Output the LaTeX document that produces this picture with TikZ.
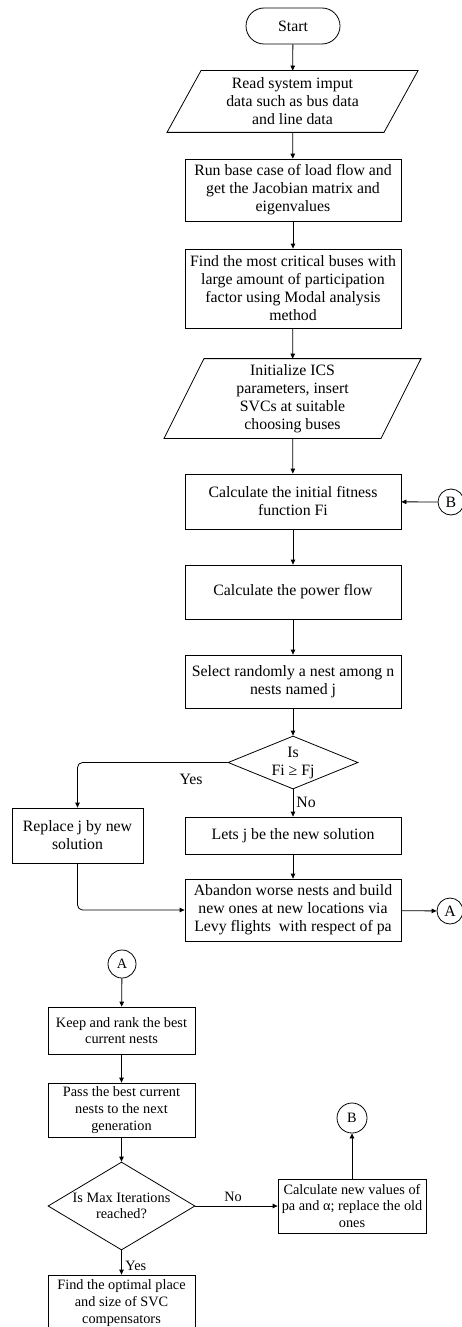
\documentclass[tikz,border=0pt]{standalone}
\usepackage{fontspec}
\setmainfont{Liberation Serif}
\usetikzlibrary{arrows.meta,shapes.geometric,calc}
\begin{document}
\begin{tikzpicture}[x=1pt,y=-1pt,
  font=\fontsize{15.8}{18}\selectfont,
  line width=0.8pt,
  box/.style={draw, rectangle, align=center, inner sep=2pt},
  mainbox/.style={box, minimum width=216pt},
  lowbox/.style={box, small, minimum width=147pt},
  iobox/.style={rectangle, align=center, inner sep=0pt},
  dia/.style={draw, diamond, inner sep=0pt},
  conn/.style={draw, circle, inner sep=0pt, minimum size=26pt},
  arr/.style={-{Triangle[length=5pt,width=4.5pt]}},
  small/.style={font=\fontsize{14.3}{16.7}\selectfont}
]
\clip (0,0) rectangle (462,1327);

% ---------- upper part ----------
\node[draw, rounded corners=18pt, minimum width=94pt, minimum height=36pt] (start) at (293,26) {Start};

\node[iobox, minimum width=180pt, minimum height=61pt] (p1) at (292.5,101.5) {Read system imput\\data such as bus data\\and line data};
\draw ($(p1.north)+(-91.5,0)$) -- ($(p1.north)+(125.5,0)$) -- ($(p1.south)+(91.5,0)$) -- ($(p1.south)+(-125.5,0)$) -- cycle;

\node[mainbox, minimum height=62pt] (b2) at (293,190) {Run base case of load flow and\\get the Jacobian matrix and\\eigenvalues};

\node[mainbox, minimum height=79pt] (b3) at (293,288.5) {Find the most critical buses with\\large amount of participation\\factor using Modal analysis\\method};

\node[iobox, minimum width=180pt, minimum height=79pt] (p2) at (292.5,398.5) {Initialize ICS\\parameters, insert\\SVCs at suitable\\choosing buses};
\draw ($(p2.north)+(-88.5,0)$) -- ($(p2.north)+(128.5,0)$) -- ($(p2.south)+(88.5,0)$) -- ($(p2.south)+(-128.5,0)$) -- cycle;

\node[mainbox, minimum height=55pt] (b4) at (293,501.5) {Calculate the initial fitness\\function Fi};
\node[conn] (cB1) at (451,502) {B};

\node[mainbox, minimum height=54pt] (b5) at (293,592) {Calculate the power flow};

\node[mainbox, minimum height=53pt] (b6) at (293,681.5) {Select randomly a nest among n\\nests named j};

\node[dia, minimum width=130pt, minimum height=53pt,
      label={[align=center, inner sep=0pt]center:Is\\Fi ≥ Fj}] (d1) at (293,762.5) {};

\node[box, minimum width=131pt, minimum height=55pt] (rep) at (77.5,835.5) {Replace j by new\\solution};
\node[mainbox, minimum height=37pt] (lets) at (293,835.5) {Lets j be the new solution};

\node[mainbox, minimum height=62pt] (ab) at (293,910) {Abandon worse nests and build\\new ones at new locations via\\Levy flights\ \ with respect of pa};
\node[conn] (cA1) at (450,911) {A};

\draw[arr] (start) -- (p1);
\draw[arr] (p1) -- (b2);
\draw[arr] (b2) -- (b3);
\draw[arr] (b3) -- (p2);
\draw[arr] (p2) -- (b4);
\draw[arr] (cB1) -- (b4);
\draw[arr] (b4) -- (b5);
\draw[arr] (b5) -- (b6);
\draw[arr] (b6) -- (d1.north);
\draw[arr, rounded corners=5pt] (d1.west) -| (rep.north);
\node (yes1) at (191,779) {Yes};
\draw[arr] (d1.south) -- (lets);
\node[anchor=west, inner sep=0pt] (no1) at (296,802) {No};
\draw[arr] (lets) -- (ab);
\draw[arr, rounded corners=5pt] (rep.south) |- (ab.west);
\draw[arr] (ab) -- (cA1);

% ---------- lower part ----------
\node[conn, small, minimum size=28pt] (cA2) at (122,964) {A};
\node[lowbox, minimum height=47pt] (keep) at (121.5,1030.5) {Keep and rank the best\\current nests};
\node[lowbox, minimum height=54pt] (pass) at (121.5,1110) {Pass the best current\\nests to the next\\generation};
\node[dia, minimum width=147pt, minimum height=88pt,
      label={[align=center, inner sep=0pt, small]center:Is Max Iterations\\reached?}] (d2) at (121.5,1206) {};
\node[box, small, minimum width=148pt, minimum height=54pt, inner sep=1pt] (calc) at (352,1206) {Calculate new values of\\pa and α; replace the old\\ones};
\node[conn, small, minimum size=30pt] (cB2) at (352,1118) {B};
\node[lowbox, minimum height=56pt] (fin) at (121.5,1303) {Find the optimal place\\and size of SVC\\compensators};

\draw[arr] (cA2) -- (keep);
\draw[arr] (keep) -- (pass);
\draw[arr] (pass) -- (d2.north);
\draw[arr] (d2.east) -- (calc.west);
\node[small] (no2) at (233,1197) {No};
\draw[arr] (calc) -- (cB2);
\draw[arr] (d2.south) -- (fin);
\node[small, anchor=west, inner sep=0pt] (yes2) at (125,1266) {Yes};
\end{tikzpicture}
\end{document}
